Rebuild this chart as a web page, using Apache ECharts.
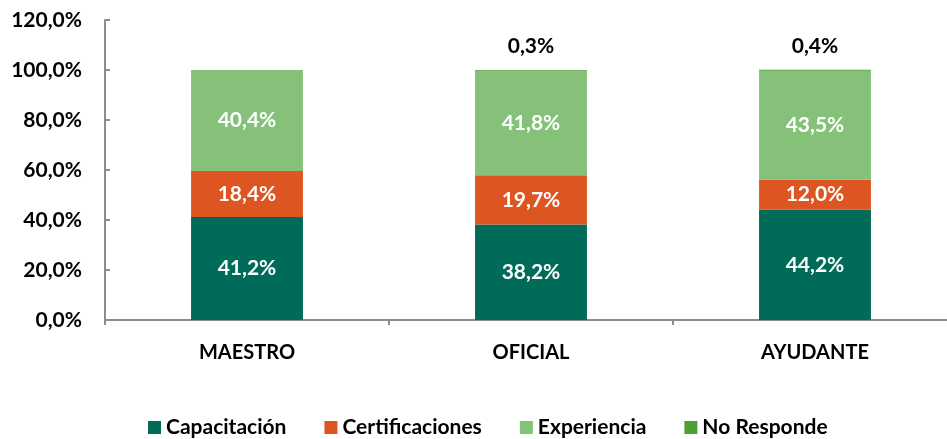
<!DOCTYPE html>
<html>
<head>
<meta charset="utf-8">
<script src="https://cdn.jsdelivr.net/npm/echarts@6/dist/echarts.min.js"></script>
<style>
  html, body { margin: 0; padding: 0; background: #fff; }
  #chart { width: 947px; height: 439px; }
</style>
</head>
<body>
<div id="chart"></div>
<script>
// Job categories along the x axis
const categories = ['MAESTRO', 'OFICIAL', 'AYUDANTE'];

// Share of answers per category (percent)
const capacitacion = [41.2, 38.2, 44.2];
const certificaciones = [18.4, 19.7, 12.0];
const experiencia = [40.4, 41.8, 43.5];
const noResponde = [null, 0.3, 0.4];

const FONT = 'Lato';
const WEIGHT = 'bold';
const fmt = v => v.toFixed(1).replace('.', ',') + '%';

function stackSeries(name, data, color, labelColor, pos) {
  return {
    name: name,
    type: 'bar',
    stack: 'total',
    data: data,
    barWidth: '39.4%',
    itemStyle: { color: color },
    label: {
      show: true,
      position: pos,
      distance: pos === 'top' ? 13 : 5,
      color: labelColor,
      fontFamily: FONT,
      fontWeight: WEIGHT,
      fontSize: 21,
      formatter: p => (p.value == null ? '' : fmt(p.value))
    }
  };
}

const chart = echarts.init(document.getElementById('chart'), null, { renderer: 'canvas' });
chart.setOption({
  animation: false,
  backgroundColor: '#ffffff',
  grid: { left: 105, width: 852, top: 20, bottom: 119, containLabel: false, outerBoundsMode: 'none' },
  legend: {
    top: 412,
    left: 143,
    itemWidth: 13,
    itemHeight: 13,
    itemGap: 38,
    icon: 'rect',
    textStyle: { fontFamily: FONT, fontWeight: WEIGHT, fontSize: 21, color: '#000' },
    data: ['Capacitación', 'Certificaciones', 'Experiencia', 'No Responde']
  },
  xAxis: {
    type: 'category',
    data: categories,
    axisLine: { lineStyle: { color: '#8c8c8c', width: 2 } },
    axisTick: { show: true, alignWithLabel: false, length: 5, lineStyle: { color: '#8c8c8c', width: 2 } },
    axisLabel: { margin: 23, fontFamily: FONT, fontWeight: WEIGHT, fontSize: 20, color: '#000' }
  },
  yAxis: {
    type: 'value',
    min: 0,
    max: 120,
    interval: 20,
    splitLine: { show: false },
    axisLine: { show: true, lineStyle: { color: '#8c8c8c', width: 2 } },
    axisTick: { show: true, inside: true, length: 5, lineStyle: { color: '#8c8c8c', width: 2 } },
    axisLabel: { margin: 23, fontFamily: FONT, fontWeight: WEIGHT, fontSize: 21, color: '#000', formatter: v => fmt(v) }
  },
  series: [
    stackSeries('Capacitación', capacitacion, '#016B5A', '#fff', 'inside'),
    stackSeries('Certificaciones', certificaciones, '#DD5622', '#fff', 'inside'),
    stackSeries('Experiencia', experiencia, '#86C17A', '#fff', 'inside'),
    stackSeries('No Responde', noResponde, '#4CA035', '#000', 'top')
  ]
});
</script>
</body>
</html>
